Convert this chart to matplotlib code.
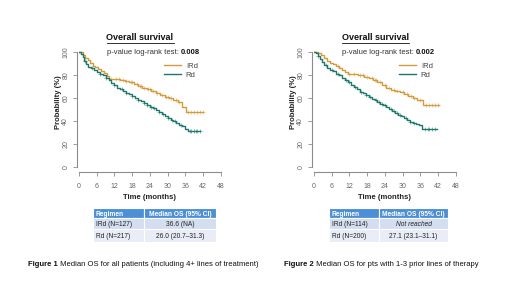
import numpy as np
import matplotlib
matplotlib.use("Agg")
import matplotlib.pyplot as plt
from matplotlib.lines import Line2D
from matplotlib.patches import Rectangle

# colours
c_ird = "#D39A3E"
c_rd = "#1C7A6A"
c_axis = "#8C8C8C"
c_head = "#4D8FD6"
c_row1 = "#D3DEF0"
c_row2 = "#E8EDF7"

# ---- Figure 1: all patients ----
ird1_t = [0, 1.5, 2.2, 3.0, 3.8, 4.6, 5.5, 6.5, 7.5, 8.5, 9.5, 10.2, 12, 14, 15.5, 17, 18.5,
          20, 21.5, 23, 24.5, 26, 27.5, 29, 30.5, 32, 33.5, 35, 36.3, 42]
ird1_s = [100, 97, 95, 92.5, 90, 88, 86.5, 85, 83.5, 82, 79, 76.5, 76, 75.5, 74.5, 73.5, 72,
          70.5, 69, 67.5, 66, 64, 62.5, 61, 60, 58.5, 56.5, 52.5, 47.5, 47.5]
ird1_cens = [11, 12.5, 13.5, 15, 16, 17.5, 18, 19.5, 20.5, 21, 22, 23.5, 24, 25, 26.5, 28,
             29.5, 30, 31, 33, 34, 37, 38, 39, 40, 41, 42]
rd1_t = [0, 0.7, 1.3, 1.8, 2.4, 3.0, 4, 5, 6, 7, 8, 9, 10, 11, 12, 13, 14, 15, 16, 17, 18, 19,
         20, 21, 22, 23, 24, 25, 26, 27, 28, 29, 30, 31, 32, 33, 34, 35, 36, 37, 41]
rd1_s = [100, 98, 95.5, 92, 89, 87, 85.5, 84, 82.5, 81, 79.5, 77.5, 75.5, 73, 71, 69, 67.5, 66,
         64.5, 63, 61.5, 60, 58.5, 57, 55.5, 54, 52.5, 51, 49.5, 48, 46.5, 44.5, 42.5, 41, 40,
         38.5, 37, 35.5, 33.5, 31.5, 31.5]
rd1_cens = [2, 4.5, 7, 9, 12, 14.5, 16, 18, 20, 22, 23, 24.5, 25.5, 27, 28.5, 30, 31.5, 32.5,
            34.5, 37.5, 38, 39, 39.5, 40, 41]

# ---- Figure 2: 1-3 prior lines ----
ird2_t = [0, 1.5, 2.5, 3.5, 4.5, 5.5, 6.5, 7.5, 8.5, 9.5, 10.5, 11.5, 13, 15, 17, 18.5, 20,
          21.5, 23, 24.5, 26, 27.5, 29, 30.5, 32, 33.5, 35, 36.8, 42.3]
ird2_s = [100, 99, 97, 94.5, 92, 90.5, 89, 87.5, 86, 84.5, 82.5, 81, 80.5, 80, 78.5, 77, 75.5,
          73.5, 71.5, 69, 67, 66, 65, 63.5, 62, 60, 58, 53.5, 53.5]
ird2_cens = [8, 12, 13.5, 15.5, 16.5, 18, 19.5, 20.5, 21, 22.5, 24, 25.5, 27, 28, 30, 31.5,
             33, 34, 36, 38, 39, 40, 41, 42]
rd2_t = [0, 0.8, 1.4, 2.0, 2.6, 3.3, 4.3, 5.3, 6.5, 7.5, 8.5, 9.5, 10.5, 11.5, 12.5, 13.5, 14.5,
         15.5, 16.5, 17.5, 18.5, 19.5, 20.5, 21.5, 22.5, 23.5, 24.5, 25.5, 26.5, 27.5, 28.5,
         29.5, 30.5, 31.5, 32.5, 33.5, 34.5, 35.5, 36.5, 41.5]
rd2_s = [100, 98.5, 96.5, 93.5, 91, 88.5, 86, 84.5, 83, 81, 79.5, 77.5, 75.5, 73.5, 71.5, 69.5,
         67.5, 65.5, 64, 62.5, 61, 59.5, 58, 56.5, 55, 53.5, 52, 50.5, 48.5, 47, 45.5, 44,
         42.5, 41, 39.5, 38.5, 37.5, 36.5, 33, 33]
rd2_cens = [1.5, 4, 6, 8, 11, 12, 14, 16, 17.5, 19, 21, 22, 23, 24, 26, 27, 28, 29, 31, 32.5,
            34, 37.5, 38.5, 39, 40, 41]

x_ticks = [0, 6, 12, 18, 24, 30, 36, 42, 48]
y_ticks = [0, 20, 40, 60, 80, 100]
pvals = ["0.008", "0.002"]
tab_cols = ["Regimen", "Median OS (95% CI)"]
tab1_rows = [["IRd (N=127)", "36.6 (NA)"], ["Rd (N=217)", "26.0 (20.7\u201331.3)"]]
tab2_rows = [["IRd (N=114)", "Not reached"], ["Rd (N=200)", "27.1 (23.1\u201331.1)"]]
captions = [("Figure 1", " Median OS for all patients (including 4+ lines of treatment)"),
            ("Figure 2", " Median OS for pts with 1-3 prior lines of therapy")]

W, H = 520, 292
fig = plt.figure(figsize=(W / 100, H / 100), dpi=100)
fig.patch.set_facecolor("white")
plt.rcParams["font.family"] = ["Liberation Sans", "DejaVu Sans"]


def px(x, y):
    return x / W, 1 - y / H


def surv_at(t, s, tc):
    idx = np.searchsorted(t, tc, side="right") - 1
    return np.asarray(s)[np.clip(idx, 0, len(s) - 1)]


fig.canvas.draw()
renderer = fig.canvas.get_renderer()


def text_width(t):
    bb = t.get_window_extent(renderer=renderer)
    return bb.width / W


panels = [
    (79, 140, (ird1_t, ird1_s, ird1_cens), (rd1_t, rd1_s, rd1_cens), pvals[0], 93, 144, 216, tab1_rows),
    (314, 375, (ird2_t, ird2_s, ird2_cens), (rd2_t, rd2_s, rd2_cens), pvals[1], 329, 379, 448, tab2_rows),
]

for i, (x0, xc, ird, rd, pv, tx0, tx1, tx2, rows) in enumerate(panels):
    # axes: x 0..48 spans 141.7 px, y 0..100 spans 115.6 px, x axis line at py 172
    ax = fig.add_axes([x0 / W, (H - 172) / H, 141.7 / W, (172 - 47.1) / H])
    ax.set_xlim(0, 48)
    ax.set_ylim(-4.07, 104)
    for name, (t, s, cens), col in [("IRd", ird, c_ird), ("Rd", rd, c_rd)]:
        ax.step(t, s, where="post", color=col, lw=1.0, label=name)
        ax.plot(cens, surv_at(t, s, cens), "+", color=col, ms=3.5, mew=0.6, alpha=0.6)
    for sp in ["top", "right"]:
        ax.spines[sp].set_visible(False)
    for sp in ["left", "bottom"]:
        ax.spines[sp].set_color(c_axis)
        ax.spines[sp].set_linewidth(0.8)
    ax.spines["left"].set_position(("outward", 1.5))
    ax.spines["left"].set_bounds(0, 100)
    ax.spines["bottom"].set_bounds(0, 48)
    ax.set_xticks(x_ticks)
    ax.set_yticks(y_ticks)
    ax.set_yticklabels([str(v) for v in y_ticks], rotation=90, va="center")
    ax.tick_params(colors=c_axis, labelcolor="#666666", labelsize=5, length=3, width=0.6)
    ax.tick_params(axis="x", pad=5)
    ax.tick_params(axis="y", pad=2.5)
    ax.set_xlabel("Time (months)", fontsize=5.5, fontweight="bold", labelpad=3, color="#222222")
    ax.set_ylabel("Probability (%)", fontsize=5.5, fontweight="bold", labelpad=1, color="#222222")
    ax.yaxis.set_label_coords(-0.12, 0.56)
    ax.patch.set_alpha(0)
    leg = ax.legend(loc="upper right", bbox_to_anchor=(0.86, 0.9), frameon=False, fontsize=5.5,
                    handlelength=2.2, handletextpad=0.6, labelspacing=0.2, borderaxespad=0)
    for txt in leg.get_texts():
        txt.set_color("#444444")

    # title with underline
    tt = fig.text(*px(xc, 38), "Overall survival", ha="center", va="center",
                  fontsize=6.5, fontweight="bold", color="#111111")
    w = text_width(tt)
    fig.add_artist(Line2D([xc / W - w / 2, xc / W + w / 2], [1 - 42.5 / H] * 2,
                          color="#111111", lw=0.6))

    # p-value line
    p1 = fig.text(*px(xc - 33, 52), "p-value log-rank test: ", ha="left", va="center",
                  fontsize=5.5, color="#333333")
    w1 = text_width(p1)
    fig.text((xc - 33) / W + w1, 1 - 52 / H, pv, ha="left", va="center",
             fontsize=5.5, fontweight="bold", color="#111111")

    # table
    row_y = [208, 218, 229, 242]
    all_rows = [tab_cols] + rows
    for r, vals in enumerate(all_rows):
        ytop, ybot = row_y[r], row_y[r + 1]
        fc = c_head if r == 0 else (c_row1 if r == 1 else c_row2)
        for c, (a, b) in enumerate([(tx0, tx1), (tx1, tx2)]):
            fig.add_artist(Rectangle((a / W, 1 - ybot / H), (b - a) / W, (ybot - ytop) / H,
                                     facecolor=fc, edgecolor="white", lw=0.8, zorder=0))
            if r == 0:
                kw = dict(color="white", fontweight="bold")
            else:
                kw = dict(color="#222222")
            if vals[c] == "Not reached":
                kw["style"] = "italic"
            ymid = 1 - (ytop + ybot) / 2 / H
            if c == 0:
                fig.text((a + 3) / W, ymid, vals[c], ha="left", va="center_baseline",
                         fontsize=4.8, zorder=5, **kw)
            else:
                fig.text((a + b) / 2 / W, ymid, vals[c], ha="center", va="center_baseline",
                         fontsize=4.8, zorder=5, **kw)

    # caption
    cap_x = [28, 284][i]
    cb = fig.text(*px(cap_x, 265), captions[i][0], ha="left", va="center", fontsize=5.5,
                  fontweight="bold", color="#111111")
    wb = text_width(cb)
    fig.text(cap_x / W + wb, 1 - 265 / H, captions[i][1], ha="left", va="center",
             fontsize=5.5, color="#111111")

fig.savefig("out.png", dpi=100)
